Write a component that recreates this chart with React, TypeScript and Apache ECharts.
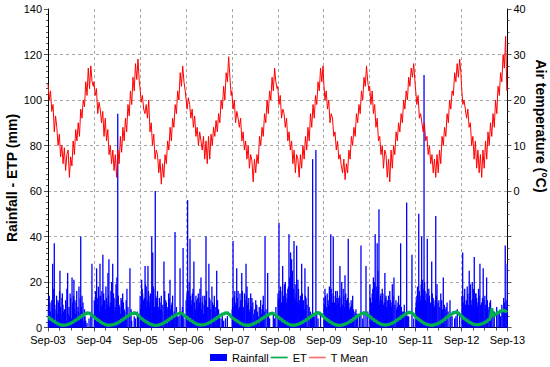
import React, { useEffect, useRef } from "react";
import * as echarts from "echarts";

const tickLabels = ["Sep-03", "Sep-04", "Sep-05", "Sep-06", "Sep-07", "Sep-08", "Sep-09", "Sep-10", "Sep-11", "Sep-12", "Sep-13"];

// Mean air temperature (°C), one value every 10 days from 1 September of each season
const T0 = [23.5,20,22,17.5,19,13,16.5,14,10,12.5,7.5,10,6,9.5,4.5,8,9,3,7.5,5.5,11,8,13.5,11,15,12,18,16,20,18.5,24,21,27,22.5,27.5,24,23];
const T1 = [24,21,22.5,17,19.5,18,15,17.5,12,16,11,13.5,8,10,6,9,4.5,8,3,9,6,12,8.5,14,11,16,13,19,16.5,22,19,25,22,28,24.5,29,24];
const T2 = [23,19.5,21,18,17,19,16,20,13,15,10,12.5,7,9,8,4,7,1.5,6,3,8,6,11,9,14,11,16,14,19,17,22,20,26,23,27.5,24,22];
const T3 = [22,18,20.5,19,16,18,14,16.5,12,14,10,13,11,9,12,7,11,6,12,7,12.5,10,14,12,15.5,13,17,15,20,18,23,20,26,24,29.5,25,21];
const T4 = [22,18,20,15,17.5,16,14,16,11,13,9,11,7,10,5,8,6.5,2,7,4,8,6,12,10,14,12,17,15,20,17,22,20,25,22,27,24,22.5];
const T5 = [23,19,21,16,18,17,14,16,11,13,9,11,6,9,4,8,7,3,8,5,10,7,12,9,14,11,17,14,19,16,21,19,24,22,27,24,27.5];
const T6 = [24,20,22,18,20,15,17,16,12,13,9,11,7,8,5.5,4,7,2.5,6,4,9,7,12,10,14,12,17,15,19,17,22,20,25,23,27.5,24,22];
const T7 = [23,19,22,17,19,14,16,11,12,8,10,5,9,8,3,7,2,9,5,10,8,13,11,15,13,17,15,20,18,22,20,25,23,27,25,28,24];
const T8 = [24,19,21,16,17,15,13,15,11,12,8,10,6,8,4,7,3,8,4,9,6,12,10,14,12,17,15,20,18,22,21,26,24,28,25,29,26];
const T9 = [23,19,20,18,16,18,14,15,10,12,7,11,5,9,4,8,3,9,5,11,7,13,10,15,12,17,14,20,17,23,21,26,24,30,27,34,22];

// Evapotranspiration (mm), one value every 10 days from 1 September of each season
const E0 = [4.2,4.6,3.4,3.8,2.6,3.0,1.9,2.2,1.3,1.6,0.9,1.3,0.8,1.2,0.9,1.4,1.2,1.8,1.6,2.4,2.2,3.2,2.8,3.9,3.5,4.8,4.2,5.6,5.0,6.3,5.7,6.7,6.0,6.6,5.6,5.8,4.6];
const E1 = [4.9,4.0,3.9,3.1,3.2,2.3,2.4,1.6,1.8,1.1,1.4,0.8,1.2,0.9,1.3,1.0,1.6,1.3,2.1,1.8,2.8,2.4,3.5,3.1,4.4,3.9,5.2,4.6,5.9,5.3,6.5,5.8,6.8,6.0,6.3,5.2,5.3];
const E2 = [4.6,3.9,3.9,3.0,3.1,2.2,2.5,1.5,1.8,1.0,1.4,0.8,1.1,0.7,1.2,0.9,1.5,1.2,2.0,1.7,2.7,2.3,3.4,3.0,4.3,3.8,5.1,4.5,5.8,5.2,6.4,5.8,6.7,6.0,6.2,5.3,5.1];
const E3 = [4.4,4.7,3.5,3.9,2.7,3.1,2.0,2.3,1.4,1.7,1.0,1.4,0.9,1.3,1.0,1.5,1.3,1.9,1.7,2.5,2.3,3.2,2.9,4.0,3.6,4.8,4.3,5.5,5.1,6.2,5.7,6.6,6.1,6.7,5.7,5.8,4.7];
const E4 = [4.8,4.0,3.8,3.1,3.1,2.3,2.4,1.6,1.7,1.1,1.3,0.8,1.2,0.8,1.2,1.0,1.6,1.3,2.1,1.8,2.7,2.4,3.4,3.1,4.3,3.8,5.0,4.6,5.7,5.3,6.3,5.8,6.5,6.0,6.1,5.2,5.2];
const E5 = [4.3,4.7,3.4,3.9,2.6,3.0,1.9,2.2,1.3,1.6,0.9,1.3,0.8,1.2,0.9,1.4,1.2,1.8,1.6,2.4,2.2,3.1,2.8,3.9,3.5,4.7,4.2,5.5,5.0,6.2,5.7,6.8,6.1,6.7,5.6,5.9,4.7];
const E6 = [4.9,4.0,3.9,3.0,3.2,2.2,2.5,1.5,1.8,1.0,1.4,0.8,1.1,0.8,1.2,0.9,1.5,1.2,2.0,1.7,2.7,2.3,3.4,3.0,4.3,3.8,5.1,4.6,5.8,5.3,6.4,5.9,6.8,6.1,6.3,5.3,5.3];
const E7 = [4.4,4.8,3.5,3.9,2.7,3.1,2.0,2.3,1.4,1.7,1.0,1.4,0.9,1.3,1.0,1.5,1.3,1.9,1.7,2.5,2.3,3.3,3.0,4.1,3.7,5.0,4.5,5.8,5.3,6.5,6.0,7.0,6.3,6.9,5.9,6.0,4.9];
const E8 = [5.0,4.1,3.9,3.1,3.2,2.3,2.4,1.6,1.8,1.1,1.4,0.9,1.2,0.8,1.2,1.0,1.6,1.3,2.1,1.8,2.8,2.4,3.6,3.2,4.6,4.0,5.4,4.9,6.2,5.6,6.9,6.2,7.1,6.4,6.6,5.5,5.6];
const E9 = [4.6,4.9,3.6,4.0,2.8,3.2,2.1,2.4,1.5,1.8,1.1,1.5,1.0,1.4,1.1,1.6,1.4,2.0,1.8,2.6,2.4,3.5,3.2,4.4,8.5,5.4,4.9,6.2,5.8,7.0,6.5,7.6,7.0,7.9,7.1,7.4,6.6];

// Rainfall events: [day since 1 September of the season, mm]
const R0 = [[2,9],[5,3],[10,14],[16,11],[20,7],[25,4],[30,12],[37,28],[42,6],[46,17],[50,37],[54,10],[58,3],[64,8],[68,14],[73,6],[79,12],[84,11],[88,4],[92,16],[95,25],[99,9],[103,6],[108,3],[111,13],[114,15],[119,10],[125,7],[130,8],[135,5],[140,12],[145,3],[150,17],[156,24],[160,6],[167,9],[172,5],[176,15],[180,13],[185,4],[191,22],[195,11],[199,7],[203,14],[206,21],[210,8],[214,12],[220,6],[224,11],[228,16],[232,3],[238,9],[242,7],[246,18],[252,5],[256,13],[260,40],[265,9],[270,14],[274,6],[278,11],[285,3],[290,8],[294,5],[300,3],[310,2],[326,4],[340,5],[349,28]];
const R1 = [[3,12],[8,6],[13,16],[17,8],[21,26],[26,13],[30,10],[35,18],[40,14],[44,7],[48,28],[53,14],[58,9],[63,16],[67,10],[71,32],[77,15],[85,12],[90,8],[95,18],[99,13],[103,7],[107,10],[111,24],[115,14],[119,30],[124,9],[130,11],[135,16],[140,20],[145,11],[149,28],[155,15],[160,13],[165,7],[168,9],[175,19],[178,12],[182,22],[189,94],[194,14],[200,10],[205,9],[210,6],[215,13],[220,12],[224,8],[228,15],[234,11],[240,8],[245,7],[250,5],[256,12],[262,17],[270,9],[280,6],[286,26],[295,8],[300,3],[320,5],[330,4],[345,7],[355,6]];
const R2 = [[2,14],[5,8],[10,10],[14,21],[18,17],[22,15],[26,8],[30,12],[35,13],[41,27],[45,19],[50,18],[55,9],[60,12],[64,27],[68,16],[72,14],[76,9],[80,11],[84,15],[88,6],[94,40],[98,12],[102,33],[106,18],[110,17],[115,9],[122,60],[126,14],[130,13],[135,11],[140,16],[145,8],[150,9],[155,13],[160,11],[165,8],[170,14],[175,7],[182,10],[191,29],[197,16],[205,12],[210,11],[215,8],[222,9],[228,15],[233,13],[239,21],[245,8],[250,10],[255,11],[260,14],[268,6],[273,7],[279,42],[285,6],[290,9],[300,5],[310,5],[319,26],[330,7],[338,9],[343,35],[350,4]];
const R3 = [[2,12],[5,6],[9,15],[14,56],[17,9],[20,12],[23,16],[26,20],[30,11],[33,39],[38,14],[42,8],[45,10],[49,12],[52,15],[57,17],[64,29],[68,11],[75,8],[80,14],[86,12],[90,9],[95,13],[99,15],[103,9],[108,11],[112,17],[116,13],[120,22],[125,8],[130,11],[135,14],[140,6],[145,10],[150,14],[155,12],[160,40],[165,16],[170,9],[177,9],[183,28],[188,13],[192,12],[198,8],[207,18],[212,11],[220,10],[226,14],[232,7],[238,9],[245,25],[252,12],[260,8],[268,6],[280,4],[290,5],[300,3],[315,4],[330,5]];
const R4 = [[3,8],[6,13],[10,38],[14,9],[20,14],[24,16],[28,10],[33,11],[39,26],[44,13],[50,16],[55,8],[60,9],[65,15],[70,12],[75,10],[79,24],[84,16],[90,7],[95,9],[100,15],[105,12],[113,28],[117,14],[121,18],[126,10],[130,11],[135,13],[140,7],[145,8],[150,15],[155,9],[160,13],[167,11],[175,6],[182,8],[190,12],[198,10],[204,7],[210,5],[218,9],[229,12],[235,6],[240,8],[245,10],[250,14],[257,7],[264,40],[272,8],[285,24],[292,5],[300,4],[330,6],[340,4],[350,9]];
const R5 = [[2,15],[5,12],[8,9],[10,46],[14,13],[18,16],[22,18],[25,9],[30,11],[35,16],[39,27],[44,12],[48,14],[53,19],[57,10],[60,20],[65,15],[70,11],[75,13],[80,17],[85,18],[89,41],[92,12],[95,22],[99,16],[102,33],[106,14],[110,30],[113,19],[117,25],[120,11],[123,15],[126,17],[129,38],[133,13],[138,19],[143,12],[146,15],[150,36],[155,11],[160,21],[165,17],[170,10],[175,12],[180,14],[185,10],[190,28],[195,15],[200,9],[205,12],[210,8],[216,26],[220,14],[225,13],[232,10],[242,18],[250,9],[260,7],[268,6],[277,74],[285,5],[290,5],[303,78],[310,7],[320,4],[340,6]];
const R6 = [[2,13],[5,10],[10,17],[15,14],[20,9],[24,8],[28,15],[35,12],[40,10],[45,18],[50,13],[56,41],[60,17],[65,15],[70,11],[76,40],[80,14],[85,11],[90,9],[95,16],[99,13],[103,10],[108,16],[115,13],[120,11],[125,14],[129,27],[135,9],[139,13],[143,20],[148,10],[155,17],[160,14],[165,9],[169,23],[175,15],[180,12],[186,10],[190,13],[195,39],[200,11],[205,8],[212,9],[218,12],[222,10],[230,14],[235,8],[240,6],[248,7],[256,8],[262,6],[270,5],[285,5],[296,36],[310,4],[320,6],[336,27],[350,7]];
const R7 = [[2,19],[6,13],[10,9],[15,11],[20,15],[25,17],[30,22],[35,14],[40,20],[44,41],[48,12],[52,18],[56,16],[60,37],[63,13],[66,25],[70,18],[74,52],[78,10],[82,12],[86,14],[90,15],[95,12],[100,17],[105,15],[110,10],[116,11],[121,24],[126,13],[130,14],[135,9],[140,12],[145,8],[150,14],[155,10],[160,16],[165,12],[170,11],[175,9],[180,19],[186,14],[193,22],[200,10],[209,12],[214,8],[220,9],[225,11],[230,14],[238,10],[246,37],[252,9],[260,7],[268,7],[275,10],[285,6],[294,55],[300,5],[310,5],[336,32],[350,4]];
const R8 = [[2,9],[5,12],[10,14],[15,18],[20,11],[25,50],[30,16],[35,14],[40,12],[44,19],[48,40],[52,13],[55,21],[60,17],[64,14],[67,111],[71,20],[75,16],[80,12],[85,11],[89,15],[93,39],[98,13],[105,17],[110,14],[115,10],[120,11],[128,29],[133,15],[140,13],[145,10],[150,9],[155,12],[160,49],[165,14],[170,19],[178,11],[185,12],[192,9],[200,15],[207,12],[213,8],[220,22],[228,10],[235,8],[243,9],[250,11],[258,7],[273,12],[280,6],[290,5],[310,4],[320,5],[331,8],[350,6]];
const R9 = [[3,14],[9,33],[14,11],[20,14],[25,17],[30,10],[38,12],[45,18],[50,15],[55,10],[61,25],[67,14],[70,19],[75,12],[80,10],[85,20],[90,13],[95,17],[101,31],[106,12],[110,15],[115,15],[120,13],[125,9],[130,11],[135,17],[140,14],[146,28],[152,10],[160,11],[166,13],[172,26],[178,12],[185,14],[192,10],[199,22],[205,12],[210,8],[218,9],[225,11],[230,12],[240,8],[250,6],[260,7],[279,9],[290,6],[300,7],[310,5],[320,10],[328,8],[335,13],[340,11],[347,36],[355,9],[360,12],[363,28]];

const tempYears = [T0, T1, T2, T3, T4, T5, T6, T7, T8, T9];
const etYears = [E0, E1, E2, E3, E4, E5, E6, E7, E8, E9];
const rainYears = [R0, R1, R2, R3, R4, R5, R6, R7, R8, R9];

const STEP_DAYS = 10;
const tempData = tempYears.flatMap((arr, k) => arr.map((v, i) => [k + (i * STEP_DAYS) / 365, v]));
const etData = etYears.flatMap((arr, k) => arr.map((v, i) => [k + (i * STEP_DAYS) / 365, v]));
const rainData = rainYears.flatMap((arr, k) => arr.map(([d, v]) => [k + d / 365, v]));

const FONT = "'Liberation Sans', Arial, sans-serif";
const LINE_ICON = "path://M0,0L20,0L20,2L0,2Z";

export default function App() {
  const ref = useRef<HTMLDivElement>(null);
  useEffect(() => {
    if (!ref.current) return;
    const chart = echarts.init(ref.current, null, { renderer: "svg" });
    const tickStyle = { color: "#555" };
    chart.setOption({
      animation: false,
      backgroundColor: "#fff",
      grid: { left: 48, right: 42.5, top: 9, bottom: 39.5 },
      xAxis: {
        type: "value",
        min: 0,
        max: 10,
        interval: 1,
        axisLine: { show: true, lineStyle: { color: "#000", width: 1 } },
        axisTick: { show: true, length: 4, lineStyle: tickStyle },
        minorTick: { show: true, splitNumber: 4, length: 3, lineStyle: tickStyle },
        axisLabel: { margin: 7, color: "#000", fontSize: 11, fontFamily: FONT, formatter: (v: number) => tickLabels[Math.round(v)] ?? "" },
        splitLine: { show: true, showMinLine: false, showMaxLine: false, lineStyle: { color: "#a6a6a6", type: [3, 3], width: 1 } },
      },
      yAxis: [
        {
          type: "value",
          min: 0,
          max: 140,
          interval: 20,
          axisLine: { show: true, lineStyle: { color: "#000", width: 1 } },
          axisTick: { show: true, length: 4, lineStyle: tickStyle },
          minorTick: { show: true, splitNumber: 8, length: 2, lineStyle: tickStyle },
          axisLabel: { margin: 6, color: "#000", fontSize: 11, fontFamily: FONT },
          splitLine: { show: true, showMinLine: false, showMaxLine: false, lineStyle: { color: "#a6a6a6", type: [3, 3], width: 1 } },
        },
        {
          type: "value",
          min: -30,
          max: 40,
          interval: 10,
          position: "right",
          axisLine: { show: true, lineStyle: { color: "#000", width: 1 } },
          axisTick: { show: true, length: 4, lineStyle: tickStyle },
          minorTick: { show: true, splitNumber: 4, length: 2, lineStyle: tickStyle },
          axisLabel: { margin: 6, color: "#000", fontSize: 11, fontFamily: FONT, formatter: (v: number) => (v >= 0 ? String(v) : "") },
          splitLine: { show: false },
        },
      ],
      legend: {
        left: 205,
        top: 347,
        itemWidth: 17,
        itemHeight: 7,
        itemGap: 2,
        textStyle: { fontSize: 11, fontFamily: FONT, color: "#000" },
        data: [
          { name: "Rainfall", icon: "rect", itemStyle: { color: "#0000ff" } },
          { name: "ET", icon: LINE_ICON, itemStyle: { color: "#00b050" } },
          { name: "T Mean", icon: LINE_ICON, itemStyle: { color: "#ff7070" } },
        ],
      },
      graphic: [
        {
          type: "text",
          x: 12,
          y: 178,
          rotation: Math.PI / 2,
          style: { text: "Rainfall - ETP (mm)", font: `bold 14px ${FONT}`, fill: "#000", textAlign: "center", textVerticalAlign: "middle" },
        },
        {
          type: "text",
          x: 541,
          y: 126,
          rotation: -Math.PI / 2,
          style: { text: "Air temperature (°C)", font: `bold 14px ${FONT}`, fill: "#000", textAlign: "center", textVerticalAlign: "middle" },
        },
      ],
      series: [
        {
          name: "Rainfall",
          type: "bar",
          xAxisIndex: 0,
          yAxisIndex: 0,
          barWidth: 1.3,
          itemStyle: { color: "#0000ff" },
          data: rainData,
        },
        {
          name: "ET",
          type: "line",
          yAxisIndex: 0,
          symbol: "none",
          showSymbol: false,
          lineStyle: { color: "#00b050", width: 3 },
          itemStyle: { color: "#00b050" },
          data: etData,
        },
        {
          name: "T Mean",
          type: "line",
          yAxisIndex: 1,
          symbol: "none",
          showSymbol: false,
          lineStyle: { color: "#ff0000", width: 1 },
          itemStyle: { color: "#ff0000" },
          data: tempData,
        },
      ],
    });
    return () => chart.dispose();
  }, []);
  return <div ref={ref} style={{ position: "fixed", left: 0, top: 0, width: 550, height: 367 }} />;
}
